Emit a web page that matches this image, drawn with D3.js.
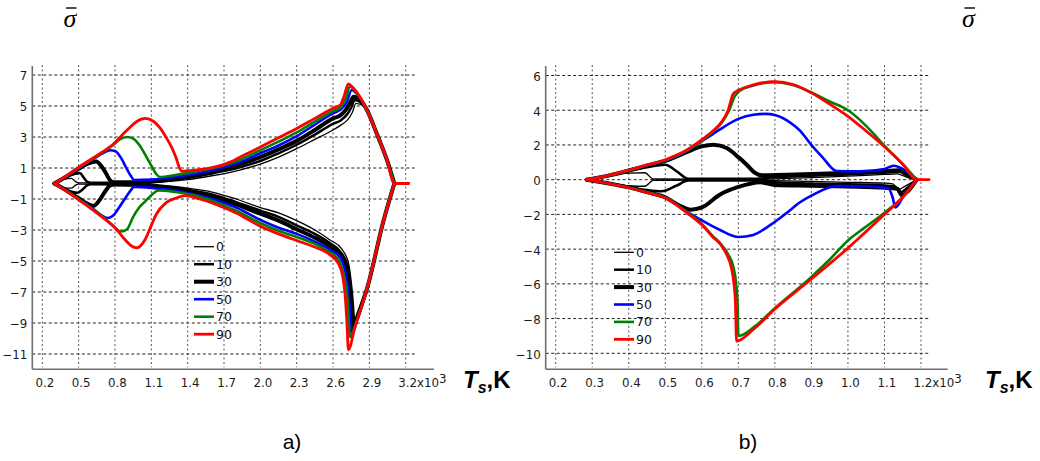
<!DOCTYPE html>
<html>
<head>
<meta charset="utf-8">
<script src="https://cdn.jsdelivr.net/npm/d3@7"></script>
<style>
  body { margin: 0; background: #fff; }
  svg { display: block; }
</style>
</head>
<body>
<svg id="fig" width="1040" height="461"></svg>
<script>
// ---------------- data ----------------
// Series are the parameter values shown in the legends.
const seriesNames = ["0", "10", "30", "50", "70", "90"];

// Panel a) tick values (Ts in 10^3 K, sigma-bar)
const aXTicks = [0.2, 0.5, 0.8, 1.1, 1.4, 1.7, 2.0, 2.3, 2.6, 2.9, 3.2];
const aYTicks = [7, 5, 3, 1, -1, -3, -5, -7, -9, -11];

// Panel a) upper branches [Ts, sigma]
const aUp0 = [[0.3,0],[0.36,0.22],[0.41,0.32],[0.44,0.33],[0.47,0.15],[0.5,0.04],[0.7,0.04],[1.0,0.04],[1.2,0.1],[1.4,0.25],[1.6,0.5],[1.83,0.87],[2.0,1.25],[2.15,1.7],[2.3,2.25],[2.45,2.85],[2.6,3.45],[2.67,3.8],[2.72,4.1],[2.76,4.6],[2.79,5.17],[2.86,4.95],[2.9,4.4],[2.96,3.24],[3.045,1.52],[3.106,0],[3.225,0]];
const aUp10 = [[0.3,0],[0.4,0.42],[0.47,0.62],[0.51,0.68],[0.54,0.4],[0.57,0.12],[0.6,0.05],[1.0,0.05],[1.2,0.15],[1.4,0.35],[1.6,0.65],[1.83,1.05],[2.0,1.45],[2.15,1.95],[2.3,2.5],[2.45,3.15],[2.6,3.85],[2.66,4.05],[2.72,4.5],[2.75,4.9],[2.78,5.39],[2.84,5.15],[2.88,4.74],[2.96,3.24],[3.045,1.52],[3.106,0]];
const aUp30 = [[0.3,0],[0.4,0.45],[0.5,0.95],[0.58,1.3],[0.645,1.42],[0.69,1.1],[0.73,0.6],[0.76,0.2],[0.79,0.08],[1.0,0.08],[1.2,0.22],[1.4,0.45],[1.6,0.8],[1.83,1.25],[2.0,1.7],[2.15,2.2],[2.3,2.75],[2.45,3.45],[2.6,4.2],[2.66,4.4],[2.71,4.8],[2.74,5.2],[2.77,5.6],[2.82,5.45],[2.88,4.74],[2.96,3.24],[3.045,1.52],[3.106,0]];
const aUp50 = [[0.3,0],[0.4,0.46],[0.5,0.98],[0.6,1.48],[0.7,1.95],[0.76,2.15],[0.8,2.1],[0.85,1.65],[0.89,1.05],[0.93,0.5],[0.96,0.22],[1.1,0.25],[1.3,0.42],[1.5,0.68],[1.65,0.95],[1.83,1.37],[2.0,1.95],[2.15,2.45],[2.3,3.05],[2.45,3.8],[2.6,4.53],[2.66,4.75],[2.71,5.2],[2.755,6.03],[2.8,5.75],[2.88,4.74],[2.96,3.24],[3.045,1.52],[3.106,0]];
const aUp70 = [[0.3,0],[0.4,0.48],[0.5,1.0],[0.6,1.5],[0.7,2.0],[0.78,2.45],[0.84,2.85],[0.9,3.0],[0.95,2.9],[1.0,2.5],[1.05,1.85],[1.1,1.15],[1.14,0.62],[1.17,0.42],[1.3,0.55],[1.45,0.75],[1.6,0.98],[1.83,1.52],[2.0,2.15],[2.15,2.7],[2.3,3.3],[2.45,4.0],[2.6,4.68],[2.66,4.9],[2.7,5.4],[2.741,6.25],[2.8,5.8],[2.88,4.74],[2.96,3.24],[3.045,1.52],[3.106,0]];
const aUp90 = [[0.3,0],[0.4,0.5],[0.5,1.05],[0.6,1.55],[0.7,2.05],[0.78,2.5],[0.85,3.05],[0.92,3.6],[0.98,4.0],[1.05,4.2],[1.12,4.0],[1.17,3.6],[1.22,3.0],[1.27,2.3],[1.3,1.75],[1.35,0.8],[1.45,0.85],[1.6,1.02],[1.75,1.38],[1.83,1.69],[2.0,2.35],[2.15,2.95],[2.3,3.55],[2.45,4.2],[2.6,4.85],[2.66,5.06],[2.69,5.6],[2.727,6.42],[2.75,6.3],[2.8,5.85],[2.88,4.74],[2.96,3.24],[3.045,1.52],[3.106,0],[3.225,0]];

// Panel a) lower branches [Ts, sigma]
const aLo0 = [[0.3,0],[0.36,-0.2],[0.41,-0.3],[0.44,-0.3],[0.47,-0.13],[0.5,-0.04],[1.0,-0.05],[1.2,-0.12],[1.4,-0.3],[1.6,-0.55],[1.8,-1.0],[2.0,-1.55],[2.15,-1.9],[2.3,-2.4],[2.45,-3.0],[2.575,-3.64],[2.67,-4.2],[2.73,-5.2],[2.76,-7.0],[2.785,-9.0],[2.82,-8.1],[2.88,-6.8],[3.017,-2.4],[3.106,0]];
const aLo10 = [[0.3,0],[0.4,-0.42],[0.49,-0.6],[0.53,-0.4],[0.57,-0.12],[0.6,-0.05],[1.0,-0.07],[1.2,-0.18],[1.4,-0.4],[1.6,-0.7],[1.8,-1.2],[2.0,-1.75],[2.15,-2.15],[2.3,-2.7],[2.45,-3.25],[2.575,-3.85],[2.66,-4.4],[2.72,-5.3],[2.75,-7.0],[2.775,-9.2],[2.81,-8.4],[2.88,-6.8],[3.017,-2.4],[3.106,0]];
const aLo30 = [[0.3,0],[0.4,-0.45],[0.5,-0.95],[0.57,-1.3],[0.62,-1.45],[0.67,-1.1],[0.72,-0.5],[0.76,-0.12],[0.8,-0.06],[1.0,-0.1],[1.2,-0.25],[1.4,-0.5],[1.6,-0.85],[1.8,-1.35],[2.0,-1.95],[2.15,-2.4],[2.3,-2.95],[2.45,-3.5],[2.575,-4.06],[2.66,-4.6],[2.71,-5.5],[2.74,-7.0],[2.765,-9.4],[2.8,-8.6],[2.88,-6.8],[3.017,-2.4],[3.106,0]];
const aLo50 = [[0.3,0],[0.4,-0.46],[0.5,-1.0],[0.6,-1.5],[0.68,-2.0],[0.74,-2.23],[0.78,-2.1],[0.83,-1.6],[0.88,-1.0],[0.92,-0.55],[0.958,-0.22],[1.1,-0.28],[1.22,-0.38],[1.4,-0.62],[1.6,-1.0],[1.8,-1.55],[2.0,-2.35],[2.15,-2.85],[2.3,-3.25],[2.45,-3.75],[2.575,-4.28],[2.66,-4.8],[2.71,-6.0],[2.735,-7.8],[2.75,-9.6],[2.8,-8.8],[2.88,-6.8],[3.017,-2.4],[3.106,0]];
const aLo70 = [[0.3,0],[0.4,-0.48],[0.5,-1.0],[0.6,-1.55],[0.7,-2.15],[0.78,-2.7],[0.85,-3.1],[0.9,-2.95],[0.95,-2.15],[1.0,-1.55],[1.05,-1.15],[1.1,-0.75],[1.16,-0.45],[1.3,-0.55],[1.5,-0.85],[1.65,-1.25],[1.8,-1.75],[2.0,-2.55],[2.15,-3.05],[2.3,-3.45],[2.45,-3.9],[2.575,-4.45],[2.65,-5.0],[2.69,-5.9],[2.72,-7.5],[2.74,-9.9],[2.79,-9.0],[2.88,-6.8],[3.017,-2.4],[3.106,0]];
const aLo90 = [[0.3,0],[0.4,-0.5],[0.5,-1.05],[0.6,-1.6],[0.7,-2.2],[0.8,-2.85],[0.88,-3.6],[0.94,-4.05],[0.98,-4.15],[1.05,-3.6],[1.1,-2.7],[1.14,-2.0],[1.22,-1.25],[1.3,-0.95],[1.38,-0.78],[1.5,-1.0],[1.65,-1.4],[1.8,-1.9],[2.0,-2.75],[2.15,-3.25],[2.3,-3.68],[2.45,-4.1],[2.575,-4.6],[2.64,-5.1],[2.68,-6.0],[2.7,-7.2],[2.715,-9.0],[2.727,-10.72],[2.78,-9.3],[2.88,-6.8],[3.017,-2.4],[3.106,0]];

// Panel b) tick values
const bXTicks = [0.2, 0.3, 0.4, 0.5, 0.6, 0.7, 0.8, 0.9, 1.0, 1.1, 1.2];
const bYTicks = [6, 4, 2, 0, -2, -4, -6, -8, -10];

// Panel b) upper branches
const bUp0 = [[0.285,0],[0.35,0.25],[0.4,0.38],[0.444,0.4],[0.467,0.04],[0.75,0.02],[0.8,0.05],[0.9,0.12],[1.0,0.2],[1.1,0.3],[1.135,0.33],[1.16,0.15],[1.188,0]];
const bUp10 = [[0.285,0],[0.35,0.25],[0.403,0.52],[0.45,0.72],[0.5,0.86],[0.53,0.5],[0.563,0.05],[0.75,0.06],[0.8,0.15],[0.9,0.22],[1.0,0.3],[1.1,0.4],[1.14,0.45],[1.165,0.2],[1.188,0]];
const bUp30 = [[0.285,0],[0.35,0.26],[0.403,0.54],[0.45,0.8],[0.5,1.08],[0.56,1.6],[0.6,1.92],[0.632,2.01],[0.668,1.82],[0.7,1.3],[0.723,0.86],[0.745,0.4],[0.765,0.25],[0.8,0.27],[0.9,0.33],[1.0,0.4],[1.1,0.5],[1.14,0.55],[1.168,0.25],[1.188,0]];
const bUp50 = [[0.285,0],[0.35,0.27],[0.403,0.55],[0.45,0.82],[0.5,1.1],[0.56,1.65],[0.6,2.22],[0.63,2.62],[0.65,2.9],[0.7,3.5],[0.741,3.74],[0.775,3.79],[0.8,3.72],[0.841,3.3],[0.87,2.8],[0.896,2.1],[0.93,1.3],[0.969,0.5],[1.033,0.48],[1.1,0.62],[1.125,0.8],[1.145,0.68],[1.188,0]];
const bUp70 = [[0.285,0],[0.35,0.27],[0.403,0.55],[0.45,0.83],[0.5,1.12],[0.56,1.68],[0.6,2.25],[0.63,2.75],[0.655,3.3],[0.675,4.0],[0.69,4.8],[0.702,5.1],[0.741,5.42],[0.8,5.62],[0.85,5.45],[0.9,5.02],[0.95,4.5],[1.0,4.0],[1.04,3.3],[1.07,2.65],[1.1,1.95],[1.152,0.85],[1.188,0]];
const bUp90 = [[0.285,0],[0.35,0.28],[0.403,0.57],[0.45,0.85],[0.5,1.15],[0.56,1.72],[0.6,2.3],[0.63,2.8],[0.655,3.35],[0.672,4.0],[0.686,4.95],[0.7,5.15],[0.741,5.46],[0.8,5.65],[0.85,5.48],[0.9,5.0],[0.95,4.35],[1.0,3.65],[1.05,2.8],[1.1,1.9],[1.152,0.85],[1.188,0],[1.222,0]];

// Panel b) lower branches
const bLo0 = [[0.285,0],[0.35,-0.2],[0.4,-0.35],[0.444,-0.38],[0.467,-0.04],[0.75,-0.02],[0.8,-0.06],[0.9,-0.1],[1.0,-0.15],[1.1,-0.2],[1.125,-0.25],[1.135,-0.6],[1.15,-0.45],[1.188,0]];
const bLo10 = [[0.285,0],[0.35,-0.22],[0.403,-0.44],[0.45,-0.6],[0.49,-0.67],[0.53,-0.35],[0.563,-0.05],[0.75,-0.05],[0.8,-0.15],[0.9,-0.22],[1.0,-0.27],[1.1,-0.33],[1.13,-0.4],[1.142,-0.75],[1.158,-0.55],[1.188,0]];
const bLo30 = [[0.285,0],[0.35,-0.23],[0.403,-0.46],[0.45,-0.72],[0.5,-1.02],[0.54,-1.5],[0.57,-1.73],[0.6,-1.6],[0.65,-0.85],[0.7,-0.42],[0.76,-0.15],[0.8,-0.3],[0.9,-0.35],[1.0,-0.4],[1.1,-0.47],[1.135,-0.52],[1.148,-0.9],[1.165,-0.65],[1.188,0]];
const bLo50 = [[0.285,0],[0.35,-0.23],[0.403,-0.46],[0.45,-0.72],[0.5,-1.02],[0.56,-1.85],[0.6,-2.35],[0.65,-2.9],[0.7,-3.3],[0.741,-3.18],[0.787,-2.62],[0.832,-1.92],[0.869,-1.3],[0.9,-0.92],[0.969,-0.36],[1.033,-0.38],[1.11,-0.48],[1.122,-1.0],[1.13,-1.6],[1.152,-0.96],[1.188,0]];
const bLo70 = [[0.285,0],[0.35,-0.23],[0.403,-0.46],[0.45,-0.72],[0.5,-1.02],[0.56,-1.88],[0.6,-2.55],[0.63,-3.25],[0.65,-3.65],[0.672,-4.3],[0.686,-5.0],[0.694,-6.0],[0.698,-7.2],[0.7,-9.0],[0.745,-8.45],[0.8,-7.4],[0.9,-5.6],[0.95,-4.6],[1.0,-3.5],[1.05,-2.7],[1.1,-1.9],[1.152,-0.96],[1.188,0]];
const bLo90 = [[0.285,0],[0.35,-0.24],[0.403,-0.48],[0.45,-0.75],[0.5,-1.05],[0.56,-1.92],[0.6,-2.6],[0.63,-3.3],[0.65,-3.7],[0.668,-4.3],[0.68,-5.0],[0.688,-6.0],[0.692,-7.1],[0.695,-9.3],[0.741,-8.63],[0.8,-7.45],[0.9,-5.72],[1.0,-3.94],[1.1,-2.0],[1.152,-0.96],[1.188,0]];

// ---------------- styles ----------------
const seriesColors = ["#000", "#000", "#000", "#0000ff", "#008000", "#ff0000"];
const seriesWidths = [1.3, 2.5, 4.0, 2.6, 2.6, 2.8];

const svg = d3.select("#fig");
svg.append("rect").attr("width", 1040).attr("height", 461).attr("fill", "#fff");

function drawPanel(p) {
  const x = d3.scaleLinear().domain(p.xDomain).range(p.xRange);
  const y = d3.scaleLinear().domain(p.yDomain).range(p.yRange);
  const g = svg.append("g");

  // dashed grid
  g.append("g").selectAll("line").data(p.xTicks).join("line")
    .attr("x1", d => x(d)).attr("x2", d => x(d))
    .attr("y1", p.gridTop).attr("y2", p.axisY - 2)
    .attr("stroke", "#555").attr("stroke-width", 1)
    .attr("stroke-dasharray", "2,2.5");
  g.append("g").selectAll("line").data(p.yTicks).join("line")
    .attr("x1", p.axisX).attr("x2", p.gridRight)
    .attr("y1", d => y(d)).attr("y2", d => y(d))
    .attr("stroke", "#222").attr("stroke-width", 1)
    .attr("stroke-dasharray", "3,2.5");

  // axis lines
  g.append("line").attr("x1", p.axisX).attr("x2", p.axisX)
    .attr("y1", p.axisTop).attr("y2", p.axisY)
    .attr("stroke", "#6e6e6e").attr("stroke-width", 1.6);
  g.append("line").attr("x1", p.axisX).attr("x2", p.axisRight)
    .attr("y1", p.axisY).attr("y2", p.axisY)
    .attr("stroke", "#6e6e6e").attr("stroke-width", 1.6);

  // tick labels via d3 axes
  const fmt = d3.format(".1f");
  const yAx = g.append("g").attr("transform", `translate(${p.axisX},0)`)
    .call(d3.axisLeft(y).tickValues(p.yTicks).tickSize(0).tickPadding(5).tickFormat(d3.format("d")));
  const xAx = g.append("g").attr("transform", `translate(0,${p.axisY})`)
    .call(d3.axisBottom(x).tickValues(p.xTicks).tickSize(0).tickPadding(9).tickFormat(fmt));
  [yAx, xAx].forEach(a => {
    a.select(".domain").remove();
    a.selectAll("text").attr("font-family", "'DejaVu Sans', sans-serif")
      .attr("font-size", 11.8).attr("fill", "#1a1a1a");
  });
  yAx.selectAll("text").attr("dy", "0.42em");
  xAx.selectAll("text").attr("dx", 2);
  // last x label carries the x10^3 multiplier
  const last = xAx.selectAll(".tick").filter((d, i, n) => i === n.length - 1).select("text");
  last.attr("text-anchor", "start").attr("x", -8).attr("dx", 0);
  last.append("tspan").text("x10");
  last.append("tspan").attr("dy", -3.5).text("3");

  // curves
  const line = d3.line().x(d => x(d[0])).y(d => y(d[1])).curve(d3.curveMonotoneX);
  const curves = g.append("g").attr("fill", "none")
    .attr("stroke-linejoin", "round").attr("stroke-linecap", "round");
  p.upper.forEach((pts, i) => {
    [pts, p.lower[i]].forEach(branch => {
      curves.append("path").attr("d", line(branch))
        .attr("stroke", seriesColors[i]).attr("stroke-width", seriesWidths[i]);
    });
  });

  // legend
  const lg = g.append("g").attr("transform", `translate(${p.legendX},${p.legendY})`);
  seriesNames.forEach((name, i) => {
    const row = lg.append("g").attr("transform", `translate(0,${i * p.legendDy})`);
    row.append("line").attr("x1", 0).attr("x2", 20).attr("y1", 0).attr("y2", 0)
      .attr("stroke", seriesColors[i]).attr("stroke-width", seriesWidths[i]);
    row.append("text").attr("x", 22).attr("y", 0).attr("dy", "0.36em")
      .attr("font-family", "'DejaVu Sans', sans-serif").attr("font-size", 12.5)
      .attr("fill", "#111").text(name);
  });

  // axis title Ts,K
  const t = g.append("text").attr("x", p.titleX).attr("y", 388)
    .attr("font-family", "'Liberation Sans', Arial, sans-serif")
    .attr("font-weight", "bold").attr("font-size", 24).attr("fill", "#000");
  t.append("tspan").attr("font-style", "italic").text("T");
  t.append("tspan").attr("font-style", "italic").attr("font-size", 16).attr("dy", 5).text("s");
  t.append("tspan").attr("dy", -5).text(",K");

  // sigma-bar ordinate label
  g.append("text").attr("x", p.sigmaX).attr("y", 27)
    .attr("font-family", "'Liberation Serif', 'Times New Roman', serif")
    .attr("font-style", "italic").attr("font-size", 26).attr("fill", "#000").text("σ");
  g.append("line").attr("x1", p.sigmaX + 2.5).attr("x2", p.sigmaX + 13)
    .attr("y1", 8).attr("y2", 8).attr("stroke", "#000").attr("stroke-width", 1.4);

  // panel caption
  g.append("text").attr("x", p.capX).attr("y", 449).attr("text-anchor", "middle")
    .attr("font-family", "'Liberation Sans', Arial, sans-serif")
    .attr("font-size", 21).attr("fill", "#000").text(p.caption);
}

drawPanel({
  xDomain: [0.2, 3.2], xRange: [42.3, 405.7],
  yDomain: [7, -11], yRange: [75, 354],
  xTicks: aXTicks, yTicks: aYTicks,
  axisX: 32.3, axisTop: 66, axisY: 369.3, axisRight: 434, gridRight: 417, gridTop: 65,
  upper: [aUp0, aUp10, aUp30, aUp50, aUp70, aUp90],
  lower: [aLo0, aLo10, aLo30, aLo50, aLo70, aLo90],
  legendX: 194, legendY: 246.7, legendDy: 17.5,
  titleX: 463, sigmaX: 63.5, capX: 292, caption: "a)"
});

drawPanel({
  xDomain: [0.2, 1.2], xRange: [555.7, 921],
  yDomain: [6, -10], yRange: [75.5, 353.3],
  xTicks: bXTicks, yTicks: bYTicks,
  axisX: 545.7, axisTop: 66, axisY: 369.3, axisRight: 947.7, gridRight: 930, gridTop: 65,
  upper: [bUp0, bUp10, bUp30, bUp50, bUp70, bUp90],
  lower: [bLo0, bLo10, bLo30, bLo50, bLo70, bLo90],
  legendX: 614, legendY: 252.3, legendDy: 17.4,
  titleX: 985, sigmaX: 962, capX: 748, caption: "b)"
});
</script>
</body>
</html>
